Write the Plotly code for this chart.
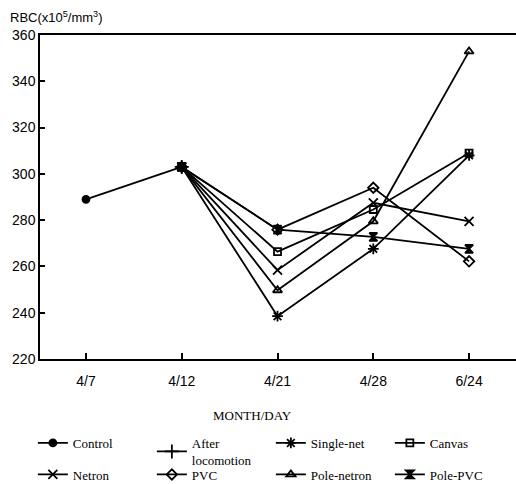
import plotly.graph_objects as go

dates = ["4/7", "4/12", "4/21", "4/28", "6/24"]
control = [289, 303, None, None, None]
after_locomotion = [None, 303, None, None, None]
single_net = [None, 303, 238.5, 267.6, 308]
canvas = [None, 303, 266.4, 284.6, 309]
netron = [None, 303, 258.4, 287.5, 279.5]
pvc = [None, 303, 275.9, 294, 262.2]
pole_netron = [None, 303, 249.7, 279.5, 352.9]
pole_pvc = [None, 303, 275.9, 272.8, 267.6]

series = [
    ("Control", control, "circle", 7, "legend"),
    ("After<br>locomotion", after_locomotion, "cross-thin-open", 10, "legend"),
    ("Single-net", single_net, "asterisk-open", 9, "legend"),
    ("Canvas", canvas, "square-open", 7, "legend"),
    ("Netron", netron, "x-thin-open", 9, "legend2"),
    ("PVC", pvc, "diamond-open", 8, "legend2"),
    ("Pole-netron", pole_netron, "triangle-up-open", 8, "legend2"),
    ("Pole-PVC", pole_pvc, "hourglass", 8, "legend2"),
]

fig = go.Figure()
for name, vals, sym, size, lg in series:
    fig.add_trace(go.Scatter(
        x=dates, y=vals, name=name, mode="lines+markers",
        line=dict(color="black", width=1.8),
        marker=dict(symbol=sym, size=size, color="black",
                    line=dict(color="black", width=1.8)),
        connectgaps=False, legend=lg,
    ))

leg_common = dict(
    orientation="h", x=-0.015, xanchor="left", yanchor="middle",
    entrywidth=74, entrywidthmode="pixels",
    font=dict(family="Liberation Serif", size=13, color="black"),
    tracegroupgap=0, itemwidth=30, bgcolor="rgba(0,0,0,0)",
)
fig.update_layout(
    width=516, height=484,
    margin=dict(l=40, r=0, t=35, b=125, autoexpand=False),
    paper_bgcolor="white", plot_bgcolor="white",
    showlegend=True,
    legend=dict(leg_common, y=(359.5 - 452) / 324),
    legend2=dict(leg_common, y=(359.5 - 475) / 324),
    font=dict(family="Liberation Sans", color="black"),
)
fig.update_xaxes(
    type="category", range=[-0.48, 4.49],
    showline=True, linecolor="black", linewidth=1.5, mirror=True,
    ticks="inside", ticklen=6, tickcolor="black", tickwidth=1.5,
    ticklabelstandoff=8,
    showgrid=False, zeroline=False,
    tickfont=dict(family="Liberation Sans", size=14, color="black"),
)
fig.update_yaxes(
    range=[220, 360], tickvals=[220, 240, 260, 280, 300, 320, 340, 360],
    showline=True, linecolor="black", linewidth=1.5,
    ticks="inside", ticklen=5, tickcolor="black", tickwidth=1.5,
    showgrid=False, zeroline=False,
    tickfont=dict(family="Liberation Sans", size=14, color="black"),
)
fig.add_annotation(
    text="RBC(x10<sup>5</sup>/mm<sup>3</sup>)", xref="paper", yref="paper",
    x=-0.068, y=1.0, xanchor="left", yanchor="bottom", yshift=8, showarrow=False,
    font=dict(family="Liberation Sans", size=13, color="black"),
)
fig.add_annotation(
    text="MONTH/DAY", xref="paper", yref="paper",
    x=(252 - 40) / 476, y=(359.5 - 416) / 324, xanchor="center", yanchor="middle",
    showarrow=False,
    font=dict(family="Liberation Serif", size=13, color="black"),
)
fig.write_html("out.html")
